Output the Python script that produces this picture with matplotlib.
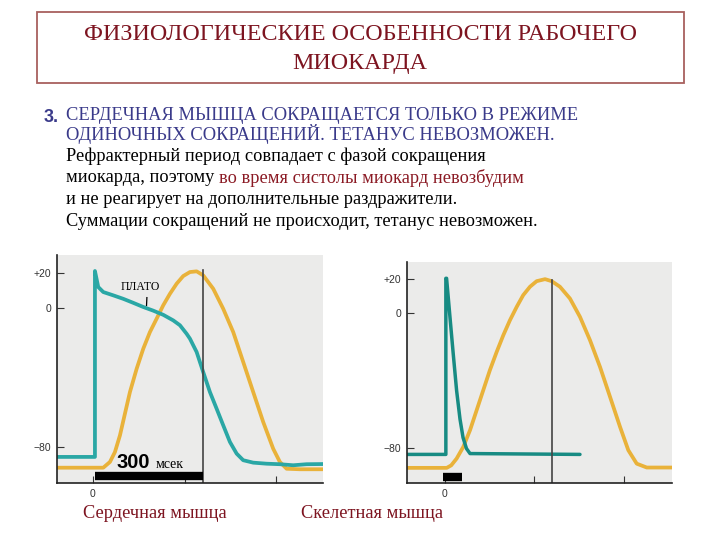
import matplotlib
matplotlib.use("Agg")
import matplotlib.pyplot as plt
from matplotlib.patches import Rectangle

# ---------------- data ----------------
# Cardiac muscle (time in ms, membrane potential in mV; contraction in same scale)
cardiac_ap_t = [-98, 5.4, 5.4, 14.4, 28.1, 55.3, 82.6, 109.8, 137.1, 164.3, 191.6, 218.8,
                237.1, 255.3, 264.3, 273.3, 282.6, 300.5, 318.8, 337.1, 355.0, 373.3,
                391.6, 409.5, 436.8, 473.3, 509.5, 545.8, 582.3, 627]
cardiac_ap_v = [-85.6, -85.6, 21.3, 12.1, 9.2, 7.3, 5.3, 3.0, 0.6, -1.5, -3.9, -7.1,
                -9.9, -14.8, -17.6, -21.4, -25.3, -36.8, -48.3, -57.9, -67.4, -77.0,
                -83.7, -87.5, -88.9, -89.5, -89.8, -90.4, -89.8, -89.7]
cardiac_con_t = [-98, 28.1, 46.3, 59.9, 73.6, 87.2, 100.8, 119.1, 137.1, 155.3, 173.6,
                 191.6, 209.8, 228.1, 246.0, 264.3, 282.6, 300.5, 327.8, 355.0, 382.3,
                 409.5, 436.8, 464.0, 491.3, 509.5, 527.8, 564.0, 627]
cardiac_con_v = [-91.8, -91.8, -88.5, -82.8, -73.2, -60.7, -48.3, -34.9, -23.4, -13.8, -6.1,
                 1.6, 8.2, 14.0, 18.4, 20.7, 21.1, 18.8, 11.1, -0.4, -13.8,
                 -31.0, -48.3, -65.5, -80.9, -88.5, -92.4, -92.7, -92.7]

# Skeletal muscle (time in ms, relative scale)
skeletal_ap_t = [-21.2, 0.5, 0.5, 0.9, 2.8, 4.6, 6.5, 8.4, 10.1, 12.0, 14.0, 75.4]
skeletal_ap_v = [-84.0, -84.0, 20.7, 20.7, -2.4, -24.0, -46.0, -63.0, -74.0, -80.5, -83.5, -84.0]
skeletal_con_t = [-21.2, 1.0, 3.5, 6.5, 10.2, 14.0, 17.7, 21.4, 25.1, 28.9, 32.6, 36.3,
                  40.1, 43.7, 47.5, 51.2, 55.9, 59.6, 64.2, 69.8, 75.4, 81.0, 86.6,
                  92.2, 97.8, 102.4, 107.1, 112.7, 126.8]
skeletal_con_v = [-92.0, -92.0, -90.5, -86.5, -79.6, -69.6, -57.7, -45.8, -33.9, -23.0, -13.1, -4.2,
                  3.8, 10.7, 15.7, 19.0, 20.2, 19.0, 15.7, 8.7, -2.2, -16.1, -32.0,
                  -49.8, -67.7, -81.5, -89.5, -91.8, -91.8]

y_ticks = [20, 0, -80]
y_tick_labels = ["+20", "0", "\u221280"]

cardiac_marker_t = 301
skeletal_marker_t = 59.6
cardiac_bar = [5, 301]
skeletal_bar = [-1, 9.5]

title_lines = ["ФИЗИОЛОГИЧЕСКИЕ ОСОБЕННОСТИ РАБОЧЕГО", "МИОКАРДА"]
caps_lines = ["СЕРДЕЧНАЯ МЫШЦА СОКРАЩАЕТСЯ ТОЛЬКО В РЕЖИМЕ",
              "ОДИНОЧНЫХ СОКРАЩЕНИЙ. ТЕТАНУС НЕВОЗМОЖЕН."]
body_line1 = "Рефрактерный период совпадает с фазой сокращения"
body_line2a = "миокарда, поэтому "
body_line2b = "во время систолы миокард невозбудим"
body_line3 = "и не реагирует на дополнительные раздражители."
body_line4 = "Суммации сокращений не происходит, тетанус невозможен."
captions = ["Сердечная мышца", "Скелетная мышца"]

# ---------------- style ----------------
W, H = 720, 540
fig = plt.figure(figsize=(7.2, 5.4), dpi=100)
fig.patch.set_facecolor("white")

def fx(px):
    return px / W

def fy(py):
    return 1 - py / H

SERIF = ["Liberation Serif", "DejaVu Serif"]
SANS = ["Liberation Sans", "DejaVu Sans"]
BG = "#ebebea"
TEAL_L = "#2aa7a5"
TEAL_R = "#178b83"
ORANGE = "#e9b23a"
MAROON = "#7d1420"
BLUE = "#3a3a8a"

# title box
fig.patches.append(Rectangle((fx(37), fy(83)), fx(684) - fx(37), fy(12) - fy(83),
                             transform=fig.transFigure, fill=False,
                             edgecolor="#a8605e", linewidth=1.3))
fig.text(fx(360), fy(34), title_lines[0], ha="center", va="center",
         family=SERIF, fontsize=17.3, color=MAROON)
fig.text(fx(360), fy(63), title_lines[1], ha="center", va="center",
         family=SERIF, fontsize=17.3, color=MAROON)

# text block
fig.text(fx(44), fy(117), "3.", ha="left", va="center", family=SANS,
         fontsize=13, fontweight="bold", color=BLUE)
fig.text(fx(66), fy(116), caps_lines[0], ha="left", va="center",
         family=SERIF, fontsize=13.3, color=BLUE)
fig.text(fx(66), fy(134), caps_lines[1], ha="left", va="center",
         family=SERIF, fontsize=13.3, color=BLUE)
fig.text(fx(66), fy(156), body_line1, ha="left", va="center",
         family=SERIF, fontsize=13.2, color="black")
t2 = fig.text(fx(66), fy(178), body_line2a, ha="left", va="center",
              family=SERIF, fontsize=13.2, color="black")
fig.text(fx(66), fy(200), body_line3, ha="left", va="center",
         family=SERIF, fontsize=13.2, color="black")
fig.text(fx(66), fy(222), body_line4, ha="left", va="center",
         family=SERIF, fontsize=13.2, color="black")
renderer = fig.canvas.get_renderer()
bb = t2.get_window_extent(renderer=renderer)
fig.text(bb.x1 / W, fy(178), body_line2b, ha="left", va="center",
         family=SERIF, fontsize=13.2, color="#8b1a24")

# captions
fig.text(fx(83), fy(513), captions[0], ha="left", va="center",
         family=SERIF, fontsize=13.2, color=MAROON)
fig.text(fx(301), fy(513), captions[1], ha="left", va="center",
         family=SERIF, fontsize=13.2, color=MAROON)


def style_axes(ax, xticks):
    ax.set_facecolor(BG)
    for s in ["top", "right"]:
        ax.spines[s].set_visible(False)
    for s in ["left", "bottom"]:
        ax.spines[s].set_color("#222222")
        ax.spines[s].set_linewidth(1.2)
    ax.set_yticks(y_ticks)
    ax.set_yticklabels(y_tick_labels)
    ax.set_xticks(xticks)
    ax.set_xticklabels(["0"] + [""] * (len(xticks) - 1))
    ax.tick_params(axis="both", direction="in", length=5, width=0.8,
                   colors="#333333", labelsize=7.5, pad=4)
    for lab in ax.get_xticklabels() + ax.get_yticklabels():
        lab.set_family(SANS)


LINE_KW = dict(solid_joinstyle="round", solid_capstyle="round")

# ---- left: cardiac ----
axL = fig.add_axes([fx(57), fy(483), fx(323) - fx(57), fy(255) - fy(483)])
axL.set_xlim(-98, 627)
axL.set_ylim(-100.6, 30.5)
style_axes(axL, [0, 250, 500])
axL.plot(cardiac_con_t, cardiac_con_v, color=ORANGE, lw=2.7, **LINE_KW)
axL.plot(cardiac_ap_t, cardiac_ap_v, color=TEAL_L, lw=2.7, **LINE_KW)
axL.plot([cardiac_marker_t, cardiac_marker_t], [22, -100.6], color="#444444", lw=1.2)
axL.plot(cardiac_bar, [-96.8, -96.8], color="black", lw=6, solid_capstyle="butt")
fig.text(fx(116), fy(463), "300", ha="left", va="center", family=SANS,
         fontsize=14.5, fontweight="bold", color="black")
fig.text(fx(156), fy(464), "мсек", ha="left", va="center", family=SERIF,
         fontsize=10, color="black")
fig.text(fx(140), fy(287), "ПЛАТО", ha="center", va="center", family=SERIF,
         fontsize=8.5, color="black")
axL.plot([147, 146], [6.0, 1.5], color="black", lw=0.9)

# ---- right: skeletal ----
axR = fig.add_axes([fx(407), fy(483), fx(672) - fx(407), fy(262) - fy(483)])
axR.set_xlim(-21.2, 126.8)
axR.set_ylim(-101, 30.4)
style_axes(axR, [0, 50, 100])
axR.plot(skeletal_con_t, skeletal_con_v, color=ORANGE, lw=2.7, **LINE_KW)
axR.plot(skeletal_ap_t, skeletal_ap_v, color=TEAL_R, lw=2.5, **LINE_KW)
axR.plot([skeletal_marker_t, skeletal_marker_t], [19.6, -101], color="#444444", lw=1.2)
axR.plot(skeletal_bar, [-97.6, -97.6], color="black", lw=6, solid_capstyle="butt")

fig.savefig("out.png", dpi=100)
